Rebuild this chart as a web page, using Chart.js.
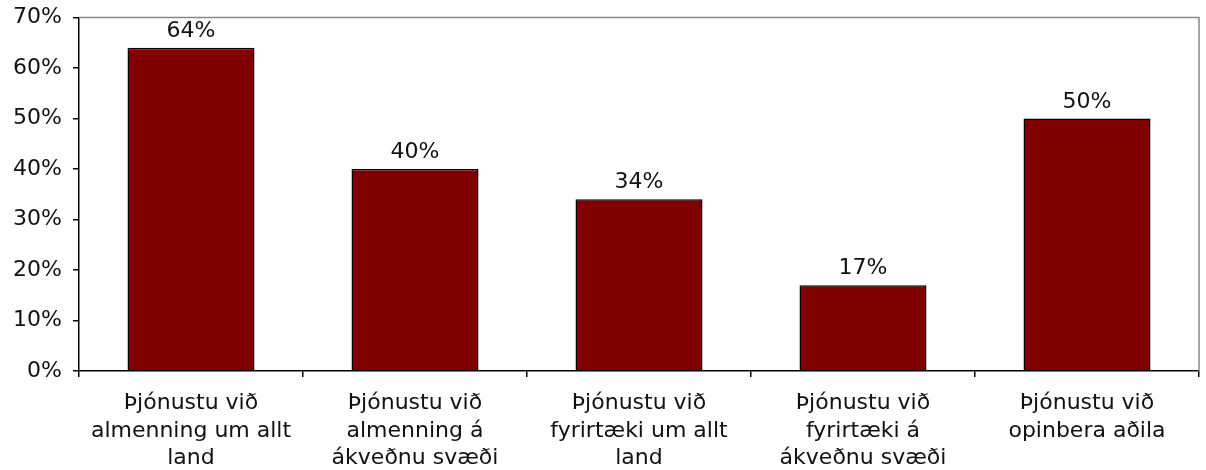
<!DOCTYPE html>
<html>
<head>
<meta charset="utf-8">
<script src="https://cdn.jsdelivr.net/npm/chart.js@4/dist/chart.umd.min.js"></script>
<style>
html,body{margin:0;padding:0;background:#fff;}
#c{display:block;}
</style>
</head>
<body>
<canvas id="c" width="1206" height="470"></canvas>
<script>
const categories = [
  ["Þjónustu við", "almenning um allt", "land"],
  ["Þjónustu við", "almenning á", "ákveðnu svæði"],
  ["Þjónustu við", "fyrirtæki um allt", "land"],
  ["Þjónustu við", "fyrirtæki á", "ákveðnu svæði"],
  ["Þjónustu við", "opinbera aðila"]
];
const values = [64, 40, 34, 17, 50];
const yMin = 0, yMax = 70, yStep = 10;

const FONT = "'DejaVu Sans', Verdana, sans-serif";

const frameAndLabels = {
  id: 'frameAndLabels',
  beforeDatasetsDraw(chart) {
    const {ctx, chartArea: a} = chart;
    ctx.save();
    ctx.strokeStyle = '#888888';
    ctx.lineWidth = 1.5;
    ctx.beginPath();
    ctx.moveTo(a.left, a.top);
    ctx.lineTo(a.right, a.top);
    ctx.lineTo(a.right, a.bottom);
    ctx.stroke();
    ctx.restore();
  },
  afterDatasetsDraw(chart) {
    const {ctx} = chart;
    const meta = chart.getDatasetMeta(0);
    ctx.save();
    ctx.font = '22px ' + FONT;
    ctx.fillStyle = '#111';
    ctx.textAlign = 'center';
    ctx.textBaseline = 'alphabetic';
    meta.data.forEach((bar, i) => {
      ctx.fillText(values[i] + '%', bar.x, bar.y - 11);
    });
    ctx.restore();
  }
};

new Chart(document.getElementById('c'), {
  type: 'bar',
  data: {
    labels: categories,
    datasets: [{
      data: values,
      backgroundColor: '#800000',
      borderColor: '#000000',
      borderWidth: 1.5,
      barPercentage: 0.567,
      categoryPercentage: 1.0
    }]
  },
  plugins: [frameAndLabels],
  options: {
    responsive: false,
    animation: false,
    devicePixelRatio: 1,
    layout: {padding: {top: 17.5, right: 7, left: 0, bottom: 0}},
    plugins: {legend: {display: false}, tooltip: {enabled: false}},
    scales: {
      x: {
        offset: true,
        grid: {offset: true, drawOnChartArea: false, drawTicks: true, tickLength: 6, color: '#000', lineWidth: 1.5},
        border: {color: '#000', width: 1.5},
        ticks: {
          color: '#111',
          padding: 13,
          maxRotation: 0,
          autoSkip: false,
          font: {family: FONT, size: 22, lineHeight: 1.24}
        },
        afterFit(scale) { scale.height = 99; scale.paddingLeft = 0; scale.paddingRight = 0; }
      },
      y: {
        min: yMin, max: yMax,
        grid: {drawOnChartArea: false, drawTicks: true, tickLength: 6, color: '#000', lineWidth: 1.5},
        border: {color: '#000', width: 1.5},
        ticks: {
          stepSize: yStep,
          color: '#111',
          padding: 11,
          font: {family: FONT, size: 22},
          callback: v => v + '%'
        },
        afterFit(scale) { scale.width = 79; scale.paddingTop = 0; scale.paddingBottom = 0; }
      }
    }
  }
});
</script>
</body>
</html>
